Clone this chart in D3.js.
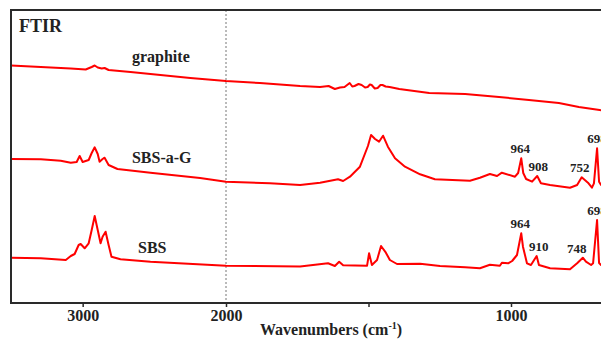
<!DOCTYPE html>
<html>
<head>
<meta charset="utf-8">
<script src="https://cdn.jsdelivr.net/npm/d3@7"></script>
<style>
  body { margin: 0; background: #fff; }
  text { font-family: "Liberation Serif", "Times New Roman", serif; font-weight: bold; fill: #222; }
</style>
</head>
<body>
<svg></svg>
<script>
// spectra: [wavenumber (cm-1), transmittance (a.u., offset)]
const graphite = [
    [3500, 237.5], [3292, 236], [3083, 234.5], [2979, 233.5], [2937, 236], [2916, 237.5],
    [2895, 235.5], [2867, 234.5], [2847, 235], [2819, 233], [2666, 231], [2527, 229],
    [2249, 225], [2000, 222], [1881, 220], [1740, 217], [1670, 216], [1640, 217], [1618, 214],
    [1600, 215.5], [1584, 216], [1566, 220], [1557, 216.5], [1549, 217], [1535, 219],
    [1524, 218], [1512, 215.5], [1503, 216], [1495, 218.5], [1489, 218], [1478, 214.5],
    [1468, 215], [1458, 218], [1451, 218], [1440, 216.5], [1426, 216], [1392, 214],
    [1287, 210], [1161, 209], [1042, 206], [937, 203], [832, 200], [762, 196], [689, 193], [650, 191]
];

const sbsaG = [
    [3500, 144], [3292, 143.7], [3153, 142.3], [3083, 140.3], [3042, 141], [3021, 147],
    [3000, 141], [2958, 143], [2937, 150], [2916, 155.7], [2895, 149], [2882, 141.3],
    [2861, 144], [2847, 145.3], [2819, 138], [2757, 134], [2527, 130.3], [2181, 125],
    [2000, 121.3], [1846, 119.7], [1740, 118], [1670, 120.3], [1607, 123.7], [1589, 122],
    [1565, 126.3], [1530, 136.3], [1502, 157], [1491, 168], [1477, 164], [1463, 161.3],
    [1449, 167.3], [1432, 156.3], [1407, 144.7], [1372, 136.3], [1319, 128.7], [1267, 123.7],
    [1144, 122.3], [1109, 125.3], [1074, 129], [1049, 127], [1032, 130.3], [986, 126.3],
    [975, 130], [964, 144.7], [957, 130], [947, 124], [926, 121.3], [908, 127], [895, 119.7],
    [863, 118], [793, 115.3], [768, 118], [752, 125.7], [730, 120.3], [716, 115.3],
    [709, 119.7], [698, 154.7], [691, 121.3], [684, 118], [650, 118]
];

const sbs = [
    [3500, 45.3], [3292, 44.7], [3118, 43], [3083, 47], [3056, 49], [3028, 58], [3014, 59],
    [2986, 54.7], [2958, 59.7], [2937, 73], [2916, 87], [2895, 73], [2875, 59.7], [2861, 66.3],
    [2840, 71.3], [2819, 58], [2799, 46.3], [2736, 43.7], [2527, 41.3], [2000, 37.3],
    [1740, 36.5], [1642, 39.7], [1618, 37], [1603, 41.3], [1589, 37.7], [1505, 37.3],
    [1498, 49.7], [1488, 38], [1470, 43], [1456, 57], [1439, 50.3], [1425, 43], [1400, 39],
    [1319, 39.3], [1249, 37], [1161, 35.7], [1109, 34.7], [1074, 38.3], [1039, 37.3],
    [1032, 40.3], [1010, 39.7], [996, 42], [979, 48], [964, 69.7], [958, 56.3], [944, 39.7],
    [930, 38], [910, 47], [902, 38], [863, 34.7], [793, 33.7], [768, 39.7], [748, 45.3],
    [737, 41.3], [719, 38], [712, 39.7], [698, 83], [691, 40], [684, 38], [650, 38]
];

const seriesNames = ["graphite", "SBS-a-G", "SBS"];
const sbsaGPeaks = [964, 908, 752, 698];
const sbsPeaks = [964, 910, 748, 698];
const tickValues = [3000, 2000, 1500, 1000];
const tickLabels = ["3000", "2000", "", "1000"];

const width = 601;
const height = 340;

// the axis is split: 3500-2000 is drawn at half the scale of 2000-650
const x = d3.scaleLinear()
    .domain([3500, 2000, 650])
    .range([11, 226, 610.75]);

const y = d3.scaleLinear()
    .domain([0, 293])
    .range([303, 10]);

const svg = d3.select("svg")
    .attr("width", width)
    .attr("height", height);

// dotted marker at 2000
svg.append("line")
    .attr("x1", x(2000)).attr("x2", x(2000))
    .attr("y1", y(293)).attr("y2", y(0))
    .attr("stroke", "#777")
    .attr("stroke-width", 1)
    .attr("stroke-dasharray", "2,2");

const line = d3.line()
    .x(d => x(d[0]))
    .y(d => y(d[1]));

svg.append("g")
    .attr("fill", "none")
    .attr("stroke", "#ff0000")
    .attr("stroke-width", 2)
    .attr("stroke-linejoin", "round")
  .selectAll("path")
  .data([graphite, sbsaG, sbs])
  .join("path")
    .attr("d", line);

// frame
svg.append("rect")
    .attr("x", x(3500))
    .attr("y", y(293))
    .attr("width", x(650) - x(3500))
    .attr("height", y(0) - y(293))
    .attr("fill", "none")
    .attr("stroke", "#2a2a2a")
    .attr("stroke-width", 2);

const xAxis = d3.axisBottom(x)
    .tickValues(tickValues)
    .tickFormat((d, i) => tickLabels[i])
    .tickSize(4)
    .tickSizeOuter(0);

const gx = svg.append("g")
    .attr("transform", `translate(0,${y(0)})`)
    .call(xAxis);
gx.select(".domain").remove();
gx.selectAll("line").attr("stroke", "#2a2a2a").attr("stroke-width", 1.5);
gx.selectAll("text")
    .attr("font-size", "16px")
    .attr("fill", "#222");

const xlabel = svg.append("text")
    .attr("x", 331)
    .attr("y", 335)
    .attr("text-anchor", "middle")
    .attr("font-size", "16px");
xlabel.append("tspan").text("Wavenumbers (cm");
xlabel.append("tspan").attr("font-size", "10px").attr("dy", -6).text("-1");
xlabel.append("tspan").attr("dy", 6).text(")");

svg.append("text")
    .attr("x", 19)
    .attr("y", 32)
    .attr("font-size", "18px")
    .text("FTIR");

// series names
const nameX = [2656, 2656, 2614];
const nameY = [241, 140, 50];
svg.append("g")
  .selectAll("text")
  .data(seriesNames)
  .join("text")
    .attr("x", (d, i) => x(nameX[i]))
    .attr("y", (d, i) => y(nameY[i]))
    .attr("font-size", "16px")
    .text(d => d);

// peak labels sit just above the peak tops
function peakLabels(series, peaks, dx) {
    const lookup = new Map(series.map(d => [d[0], d[1]]));
    svg.append("g")
      .selectAll("text")
      .data(peaks)
      .join("text")
        .attr("x", (d, i) => x(d) + dx[i])
        .attr("y", d => y(lookup.get(d)) - 5)
        .attr("text-anchor", "middle")
        .attr("font-size", "13px")
        .text(d => d);
}
peakLabels(sbsaG, sbsaGPeaks, [-1, 1, -2, 0]);
peakLabels(sbs, sbsPeaks, [-1, 2, -6, 0]);
</script>
</body>
</html>
